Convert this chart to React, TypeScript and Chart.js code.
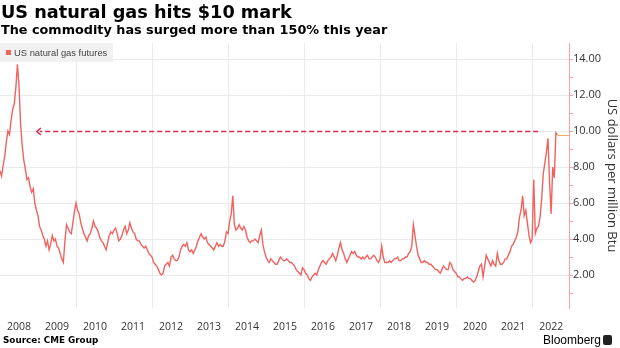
import React, { useEffect, useRef } from "react";
import { Chart, registerables } from "chart.js";

Chart.register(...registerables);

const chartTitle = "US natural gas hits $10 mark";
const chartSubtitle = "The commodity has surged more than 150% this year";
const seriesLabel = "US natural gas futures";
const yAxisTitle = "US dollars per million Btu";
const sourceText = "Source: CME Group";
const brandText = "Bloomberg";

const startYear = 2008;
const pointsPerYear = 24; // two readings per month
const yearLabels = [2008, 2009, 2010, 2011, 2012, 2013, 2014, 2015, 2016, 2017, 2018, 2019, 2020, 2021, 2022];
const gridYears = [2010, 2012, 2014, 2016, 2018, 2020, 2022];
const yTickValues = [1, 2, 3, 4, 5, 6, 7, 8, 9, 10, 11, 12, 13, 14];
const xMin = 2008;
const xMax = 2022.97;
const yMin = 0.17;
const yMax = 14.89;

const arrowLevel = 10;
const arrowFrom = 2022.16;
const arrowTo = 2008.97;

const v2008 = [7.8, 7.5, 8.1, 8.6, 9.4, 10.0, 9.8, 10.6, 11.2, 11.5, 12.4, 13.7, 12.5, 10.4, 9.2, 8.4, 7.9, 7.3, 7.4, 6.9, 6.6, 6.8, 6.0, 5.6];
const v2009 = [5.3, 4.7, 4.5, 4.2, 4.0, 3.6, 3.9, 3.4, 3.7, 4.2, 3.9, 4.0, 3.6, 3.5, 3.2, 2.9, 2.7, 3.9, 4.8, 4.6, 4.4, 4.3, 4.9, 5.5];
const v2010 = [6.0, 5.6, 5.4, 4.9, 4.6, 4.3, 4.1, 3.9, 4.2, 4.3, 4.6, 5.0, 4.7, 4.6, 4.4, 4.1, 3.9, 3.8, 3.6, 3.4, 3.8, 4.2, 4.4, 4.3];
const v2011 = [4.5, 4.6, 4.3, 3.9, 4.0, 4.2, 4.5, 4.7, 4.3, 4.5, 4.9, 4.6, 4.4, 4.3, 4.0, 3.9, 3.9, 3.7, 3.6, 3.5, 3.6, 3.4, 3.2, 3.1];
const v2012 = [3.0, 2.7, 2.6, 2.5, 2.3, 2.1, 2.0, 2.1, 2.5, 2.6, 2.7, 2.5, 3.0, 3.1, 2.9, 2.8, 2.8, 3.0, 3.4, 3.6, 3.7, 3.6, 3.8, 3.4];
const v2013 = [3.3, 3.4, 3.2, 3.4, 3.6, 3.9, 4.1, 4.3, 4.1, 4.0, 4.1, 3.8, 3.7, 3.6, 3.5, 3.4, 3.6, 3.8, 3.6, 3.7, 3.6, 3.6, 3.9, 4.4];
const v2014 = [4.3, 5.0, 5.4, 6.4, 4.8, 4.5, 4.6, 4.8, 4.6, 4.5, 4.7, 4.5, 4.1, 3.9, 3.8, 3.9, 3.9, 4.0, 3.9, 3.8, 4.2, 4.5, 3.7, 3.3];
const v2015 = [3.0, 2.8, 2.7, 2.9, 2.8, 2.7, 2.6, 2.6, 2.8, 3.0, 2.9, 2.8, 2.8, 2.9, 2.8, 2.7, 2.7, 2.6, 2.5, 2.3, 2.2, 2.1, 2.0, 2.4];
const v2016 = [2.3, 2.1, 2.0, 1.8, 1.7, 1.9, 2.0, 2.1, 2.0, 2.3, 2.5, 2.7, 2.8, 2.7, 2.6, 2.8, 2.9, 3.0, 3.2, 3.0, 2.8, 3.1, 3.5, 3.8];
const v2017 = [3.4, 3.2, 2.9, 2.7, 2.9, 3.1, 3.3, 3.2, 3.3, 3.1, 3.0, 3.0, 2.9, 3.0, 2.9, 3.0, 3.1, 2.9, 2.9, 3.0, 3.1, 3.0, 2.8, 2.7];
const v2018 = [2.9, 3.6, 3.0, 2.7, 2.7, 2.7, 2.8, 2.7, 2.8, 2.9, 2.9, 3.0, 2.8, 2.8, 2.9, 2.9, 3.0, 3.0, 3.2, 3.3, 3.6, 4.8, 4.2, 3.6];
const v2019 = [3.1, 2.9, 2.7, 2.7, 2.8, 2.7, 2.7, 2.6, 2.6, 2.5, 2.4, 2.3, 2.3, 2.2, 2.1, 2.3, 2.5, 2.4, 2.3, 2.3, 2.7, 2.6, 2.3, 2.2];
const v2020 = [2.1, 1.9, 1.9, 1.8, 1.7, 1.8, 1.8, 1.9, 1.8, 1.8, 1.7, 1.6, 1.7, 1.9, 2.2, 2.5, 2.6, 1.9, 2.5, 3.1, 2.9, 2.7, 2.5, 2.8];
const v2021 = [2.6, 2.5, 3.2, 2.8, 2.6, 2.6, 2.7, 2.9, 2.9, 3.1, 3.3, 3.6, 3.7, 3.9, 4.1, 4.4, 5.2, 5.6, 6.4, 5.3, 5.6, 4.9, 4.2, 3.8];
const v2022 = [4.0, 7.3, 4.3, 4.6, 4.7, 5.2, 6.2, 7.6, 8.2, 8.8, 9.6, 7.2, 5.4, 8.0, 7.4, 9.9, 9.8];

const lineColor = "#f2625f";
const gridColor = "#ebebeb";
const axisPink = "#f6a2a8";
const arrowColor = "#e3294f";
const lastLineColor = "#f0a866";
const axisFont = "'Open Sans', 'Liberation Sans', Arial, sans-serif";
const titleFont = "'DejaVu Sans', 'Liberation Sans', sans-serif";

const allValues = [
  ...v2008, ...v2009, ...v2010, ...v2011, ...v2012, ...v2013, ...v2014,
  ...v2015, ...v2016, ...v2017, ...v2018, ...v2019, ...v2020, ...v2021, ...v2022,
];

const overlayPlugin = {
  id: "overlayMarks",
  afterDatasetsDraw(chart: any) {
    const { ctx, chartArea, scales } = chart;
    const xs = scales.x;
    const ys = scales.y;
    const meta = chart.getDatasetMeta(0);
    const last = meta.data[meta.data.length - 1];
    ctx.save();
    ctx.strokeStyle = lastLineColor;
    ctx.lineWidth = 1;
    ctx.beginPath();
    const ly = Math.round(last.y) + 0.5;
    ctx.moveTo(last.x, ly);
    ctx.lineTo(chartArea.right, ly);
    ctx.stroke();
    const ay = Math.round(ys.getPixelForValue(arrowLevel)) + 0.5;
    const x1 = xs.getPixelForValue(arrowFrom);
    const x2 = xs.getPixelForValue(arrowTo);
    ctx.strokeStyle = arrowColor;
    ctx.lineWidth = 1.5;
    ctx.setLineDash([5, 3]);
    ctx.beginPath();
    ctx.moveTo(x1, ay);
    ctx.lineTo(x2 + 3, ay);
    ctx.stroke();
    ctx.setLineDash([]);
    ctx.beginPath();
    ctx.moveTo(x2 + 4, ay - 3.5);
    ctx.lineTo(x2, ay);
    ctx.lineTo(x2 + 4, ay + 3.5);
    ctx.stroke();
    ctx.restore();
  },
};

export default function App() {
  const canvasRef = useRef<HTMLCanvasElement | null>(null);

  useEffect(() => {
    document.body.style.margin = "0";
    const canvas = canvasRef.current;
    if (!canvas) return;
    const points = allValues.map((v, i) => ({ x: startYear + i / pointsPerYear, y: v }));
    const xTickValues = [...gridYears, ...yearLabels.map((y) => y + 0.5)].sort((a, b) => a - b);

    const chart = new Chart(canvas, {
      type: "line",
      data: {
        datasets: [
          {
            label: seriesLabel,
            data: points,
            borderColor: lineColor,
            backgroundColor: lineColor,
            borderWidth: 1.4,
            pointRadius: 0,
            tension: 0,
            fill: false,
          },
        ],
      },
      options: {
        responsive: false,
        animation: false,
        devicePixelRatio: 1,
        layout: { padding: { top: 43, bottom: 14, left: 0, right: 0 } },
        plugins: {
          legend: { display: false },
          tooltip: { enabled: false },
          title: { display: false },
        },
        scales: {
          x: {
            type: "linear",
            min: xMin,
            max: xMax,
            afterBuildTicks: (s: any) => {
              s.ticks = xTickValues.map((v) => ({ value: v }));
            },
            afterFit: (s: any) => {
              s.height = 26;
              s.paddingLeft = 0;
              s.paddingRight = 0;
            },
            ticks: {
              autoSkip: false,
              maxRotation: 0,
              minRotation: 0,
              padding: 13,
              color: "#333333",
              font: { family: axisFont, size: 10.5 },
              callback: (v: any) => (Math.abs((v % 1) - 0.5) < 1e-6 ? String(Math.floor(v)) : ""),
            },
            grid: {
              color: (c: any) => (c.tick && c.tick.value % 1 === 0 ? gridColor : "rgba(0,0,0,0)"),
              drawTicks: false,
              lineWidth: 1,
            },
            border: { display: false },
          },
          y: {
            type: "linear",
            position: "right",
            min: yMin,
            max: yMax,
            afterBuildTicks: (s: any) => {
              s.ticks = yTickValues.map((v) => ({ value: v }));
            },
            afterFit: (s: any) => {
              s.width = 51;
              s.paddingTop = 0;
              s.paddingBottom = 0;
            },
            ticks: {
              autoSkip: false,
              padding: 0,
              color: "#333333",
              font: { family: axisFont, size: 11 },
              callback: (v: any) => (v % 2 === 0 ? Number(v).toFixed(2) : ""),
            },
            grid: {
              color: (c: any) => (c.tick && c.tick.value % 2 === 0 ? gridColor : "rgba(0,0,0,0)"),
              tickColor: axisPink,
              tickLength: 4,
              drawTicks: true,
            },
            border: { display: true, color: axisPink },
            title: {
              display: true,
              text: yAxisTitle,
              color: "#333333",
              font: { family: axisFont, size: 13 },
              padding: { top: 0, bottom: 0 },
            },
          },
        },
      },
      plugins: [overlayPlugin],
    } as any);

    return () => chart.destroy();
  }, []);

  return (
    <div style={{ position: "absolute", left: 0, top: 0, width: 620, height: 348, background: "#ffffff", overflow: "hidden" }}>
      <canvas ref={canvasRef} width={620} height={348} style={{ position: "absolute", left: 0, top: 0, width: 620, height: 348 }} />
      <div style={{ position: "absolute", left: 1, top: 2, fontFamily: titleFont, fontWeight: "bold", fontSize: 17.7, lineHeight: "21px", color: "#000", whiteSpace: "nowrap" }}>
        {chartTitle}
      </div>
      <div style={{ position: "absolute", left: 1, top: 22, fontFamily: titleFont, fontWeight: "bold", fontSize: 12.8, lineHeight: "16px", color: "#000", whiteSpace: "nowrap" }}>
        {chartSubtitle}
      </div>
      <div style={{ position: "absolute", left: 0, top: 43, width: 113, height: 19, background: "rgba(240,240,240,0.95)", display: "flex", alignItems: "center", whiteSpace: "nowrap" }}>
        <span style={{ display: "inline-block", width: 5, height: 5, background: lineColor, marginLeft: 6, marginRight: 3 }} />
        <span style={{ fontFamily: "'Liberation Sans', Arial, sans-serif", fontSize: 9.4, color: "#444" }}>{seriesLabel}</span>
      </div>
      <div style={{ position: "absolute", left: 3, top: 335, fontFamily: titleFont, fontWeight: "bold", fontSize: 8.8, lineHeight: "11px", color: "#000", whiteSpace: "nowrap" }}>
        {sourceText}
      </div>
      <div style={{ position: "absolute", left: 543, top: 333, fontFamily: "'Liberation Sans', Arial, sans-serif", fontSize: 12, lineHeight: "14px", color: "#000", whiteSpace: "nowrap" }}>
        {brandText}
      </div>
      <div style={{ position: "absolute", left: 603, top: 335, width: 9, height: 10, background: "#222", borderRadius: 2 }} />
    </div>
  );
}
